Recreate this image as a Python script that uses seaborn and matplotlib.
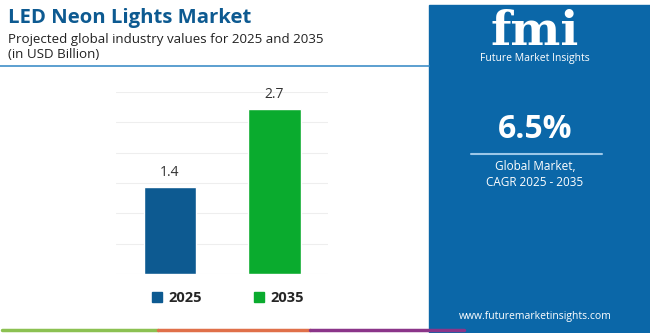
import matplotlib
matplotlib.use("Agg")
import matplotlib.pyplot as plt
import seaborn as sns
import pandas as pd
from matplotlib.patches import Rectangle
from matplotlib.lines import Line2D

years = ["2025", "2035"]
values = [1.44, 2.72]
bar_colors = ["#0d5a91", "#0aab2e"]
title = "LED Neon Lights Market"
subtitle = "Projected global industry values for 2025 and 2035"
unit = "(in USD Billion)"
cagr = "6.5%"
cagr_label = ["Global Market,", "CAGR 2025 - 2035"]
website = "www.futuremarketinsights.com"
brand = "Future Market Insights"

sns.set_style("white")
plt.rcParams['font.family'] = ['Open Sans', 'DejaVu Sans']

W, H = 650, 333
fig = plt.figure(figsize=(W / 100, H / 100), dpi=100)
fig.patch.set_facecolor("white")

def px(x, y):
    return x / W, 1 - y / H

# right blue panel
fig.patches.append(Rectangle(px(429, 333), (W - 429) / W, (333 - 5) / H,
                             transform=fig.transFigure, color="#0b67a8", zorder=0))
# header underline
fig.lines.append(Line2D([0, 429 / W], [1 - 66 / H] * 2, transform=fig.transFigure,
                        color="#3f8fc8", lw=1.2))
# bottom colored strips
for x0, x1, c in [(2, 158, "#8cc152"), (158, 310, "#e0704a"), (310, 464, "#8b3589")]:
    fig.lines.append(Line2D([x0 / W, x1 / W], [1 - 330 / H] * 2, transform=fig.transFigure,
                            color=c, lw=2.5, zorder=3))

# titles
fig.text(*px(8, 18), title, fontsize=14.6, fontweight="bold", color="#0d5a91", va="center")
fig.text(*px(8, 40), subtitle, fontsize=9.6, color="#222222", va="center")
fig.text(*px(8, 55), unit, fontsize=9.6, color="#222222", va="center")

# bar chart axes
ax = fig.add_axes([116 / W, 59 / H, 212 / W, 182 / H])
df = pd.DataFrame({"year": years, "value": values})
sns.barplot(data=df, x="year", y="value", hue="year", palette=bar_colors,
            width=0.5, ax=ax, legend=False, saturation=1)
ax.set_ylim(0, 3)
ax.set_xlim(-0.517, 1.512)
ax.set_yticks([0, 0.5, 1, 1.5, 2, 2.5, 3])
ax.yaxis.grid(True, color="#eeeeee", lw=0.8)
ax.set_axisbelow(True)
ax.set_xticks([])
ax.set_yticklabels([])
ax.tick_params(left=False, bottom=False)
ax.set_xlabel("")
ax.set_ylabel("")
for s in ax.spines.values():
    s.set_visible(False)
for cont in ax.containers:
    ax.bar_label(cont, fmt="%.1f", padding=5, fontsize=10, color="#333333")

handles = [Rectangle((0, 0), 1, 1, color=c) for c in bar_colors]
fig.legend(handles, years, loc="center left", bbox_to_anchor=px(139, 298), ncol=2,
           frameon=False, prop={"weight": "bold", "size": 10.5},
           handlelength=0.7, handleheight=0.7, handletextpad=0.4, columnspacing=3.6)

# right panel texts
fig.text(*px(535, 32), "fmi", fontsize=34, fontweight="bold", color="white",
         ha="center", va="center", family=["DejaVu Serif"])
fig.text(*px(535, 59), brand, fontsize=7.5, color="white", ha="center", va="center")
fig.text(*px(535, 130), cagr, fontsize=23, fontweight="bold", color="white",
         ha="center", va="center")
fig.lines.append(Line2D([471 / W, 602 / W], [1 - 154 / H] * 2, transform=fig.transFigure,
                        color="#9cc7e8", lw=1.5))
fig.text(*px(535, 167), cagr_label[0], fontsize=8.5, color="white", ha="center", va="center")
fig.text(*px(535, 182), cagr_label[1], fontsize=8.5, color="white", ha="center", va="center")
fig.text(*px(535, 317), website, fontsize=7.5, color="white", ha="center", va="center")

fig.savefig("out.png", dpi=100)
